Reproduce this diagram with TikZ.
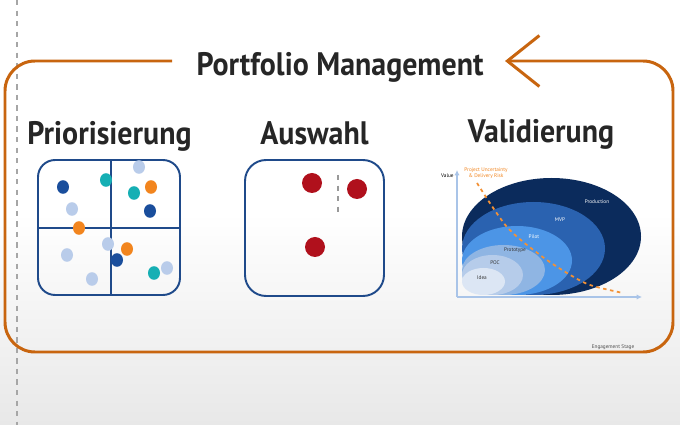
\documentclass[tikz,border=0pt]{standalone}
\usepackage{fontspec}
\setmainfont{PT Sans}
\newfontfamily\headfont{PT Sans Bold}[FakeStretch=0.92]
\usetikzlibrary{positioning,calc,arrows.meta}

\definecolor{pmorange}{HTML}{C8650F}
\definecolor{boxblue}{HTML}{1F4A8A}
\definecolor{dotdark}{HTML}{1A4E9C}
\definecolor{dotteal}{HTML}{16AFB4}
\definecolor{dotorange}{HTML}{F2851E}
\definecolor{dotlight}{HTML}{B9CCEA}
\definecolor{dotred}{HTML}{B0101C}
\definecolor{stage1}{HTML}{0B2B5C}
\definecolor{stage2}{HTML}{2A62B0}
\definecolor{stage3}{HTML}{4C95E6}
\definecolor{stage4}{HTML}{8FB5E3}
\definecolor{stage5}{HTML}{B6CCEA}
\definecolor{stage6}{HTML}{DCE6F4}
\definecolor{axisblue}{HTML}{A9C4E8}

\begin{document}
\begin{tikzpicture}[x=0.02cm,y=-0.02cm]
  \tikzset{frame/.style={draw=pmorange, line width=1.7pt, rounded corners=0.6cm},
    title/.style={font=\headfont\fontsize{18.5}{20}\selectfont, inner sep=0pt, text=black!85},
    heading/.style={font=\headfont\fontsize{18.5}{20}\selectfont, inner sep=0pt, text=black!85},
    quad/.style={draw=boxblue, line width=1.1pt, minimum width=2.84cm, minimum height=2.7cm},
    tiny/.style={font=\fontsize{3}{3.5}\selectfont, inner sep=0pt},
    axis/.style={draw=axisblue, line width=0.8pt, -{Latex[length=3pt,width=3pt]}}
  }

  % background
  \shade[top color=white, bottom color=black!9, middle color=white]
    (0,0) rectangle (680,425);
  \useasboundingbox (0,0) rectangle (680,425);
  \draw[gray!70, line width=0.6pt, dash pattern=on 3pt off 3pt] (17,0) -- (17,425);

  \node[title, anchor=base] (pm) at (340,76) {Portfolio Management};
  \coordinate (pmL) at (172,61);
  \coordinate (pmR) at (505,61);
  \draw[frame, -{Straight Barb[length=0.64cm, width=1.02cm]}]
    (pmL) -- (5,61) -- (5,352) -- (673,352) -- (673,61) -- (pmR);

  \node[heading, anchor=base] (prioT) at (109.5,145) {Priorisierung};
  \node[heading, anchor=base] (auswT) at (314.5,145) {Auswahl};
  \node[heading, anchor=base] (valiT) at (541,143) {Validierung};

  % Priorisierung
  \node[quad, rounded corners=0.34cm] (prio) at (109,227.5) {};
  \draw[boxblue, line width=1.1pt] (prio.north -| 111,0) -- (prio.south -| 111,0);
  \draw[boxblue, line width=1.1pt] (prio.west |- 0,228) -- (prio.east |- 0,228);
  \foreach \x/\y/\c in {63/187/dotdark, 106/180/dotteal, 139/167/dotlight,
      151/187/dotorange, 134/193/dotteal, 150/211/dotdark, 72/209/dotlight,
      79/228/dotorange, 108/244/dotlight, 127/249/dotorange, 117/260/dotdark,
      67/255/dotlight, 92/279/dotlight, 154/273/dotteal, 167/268/dotlight}
    \fill[\c] (\x,\y) ellipse [x radius=6, y radius=6.8];

  % Auswahl
  \node[quad, minimum width=2.78cm, minimum height=2.72cm, rounded corners=0.42cm] (ausw) at (314.5,228) {};
  \foreach \x/\y in {312/183, 357/189, 315/247}
    \fill[dotred] (\x,\y) circle [radius=10];
  \draw[gray!80, line width=0.8pt, dash pattern=on 3pt off 3pt] (338,175) -- (338,215);

  % Validierung
  \begin{scope}
    \clip (462,170) rectangle (645,295);
    \fill[stage1] (551.5,236.5) ellipse [x radius=89.5, y radius=58.5];
    \fill[stage2] (533.5,248.5) ellipse [x radius=71.5, y radius=46.5];
    \fill[stage3] (517,260.5) ellipse [x radius=55, y radius=34.5];
    \fill[stage4] (503.5,270) ellipse [x radius=41.5, y radius=25];
    \fill[stage5] (492.5,275) ellipse [x radius=30.5, y radius=20];
    \fill[stage6] (483.5,281.5) ellipse [x radius=21.5, y radius=13.5];
  \end{scope}
  \coordinate (origin) at (457,297);
  \draw[axis] (origin) -- (457,170);
  \draw[axis] (origin) -- (642,297);
  \node[tiny, anchor=east] (valueL) at (454,176) {Value};
  \node[tiny, text=dotorange, align=center] (riskL) at (486,173) {Project Uncertainty\\ \& Delivery Risk};
  \draw[dotorange!90, line width=1pt, dash pattern=on 2pt off 2pt]
    plot[smooth] coordinates {(477,183) (507,227) (540,255) (567,273) (590,285) (623,293)};
  \node[tiny, text=white] (prodL) at (597,202) {Production};
  \node[tiny, text=white] (mvpL) at (560,220) {MVP};
  \node[tiny, text=white] (pilotL) at (534,237) {Pilot};
  \node[tiny, text=black!80] (protoL) at (515,250) {Prototype};
  \node[tiny, text=black!80] (pocL) at (495,263) {POC};
  \node[tiny, text=black!80] (ideaL) at (482,278) {Idea};
  \node[tiny, text=black!70] (stageL) at (613,347) {Engagement Stage};
\end{tikzpicture}
\end{document}
